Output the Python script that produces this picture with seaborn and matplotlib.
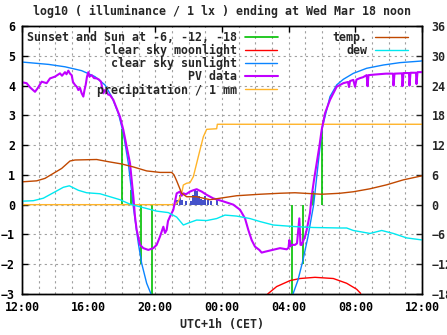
import numpy as np
import pandas as pd
import matplotlib
matplotlib.use("Agg")
import matplotlib.pyplot as plt
import seaborn as sns

# ---------------- data (hours after 12:00, log10 lux / deg C) ----------------
tick_hours = [0, 4, 8, 12, 16, 20, 24]
tick_labels = ["12:00", "16:00", "20:00", "00:00", "04:00", "08:00", "12:00"]

sun_eve_h = [0.0, 1.6, 2.58, 3.58, 4.38, 4.98, 5.38, 5.78, 6.08, 6.38, 6.68, 6.98, 7.18, 7.48, 7.74]
sun_eve_v = [4.79, 4.71, 4.63, 4.50, 4.30, 4.02, 3.63, 3.07, 2.40, 1.39, -0.07, -1.30, -1.97, -2.64, -3.0]
sun_mor_h = [16.26, 16.56, 16.86, 17.16, 17.5, 18.0, 18.48, 18.88, 19.28, 19.88, 20.68, 21.68, 22.68, 23.88, 24.0]
sun_mor_v = [-3.0, -2.53, -1.86, -1.07, 0.0, 2.55, 3.63, 4.02, 4.21, 4.41, 4.58, 4.69, 4.77, 4.82, 4.83]

moon_h = [14.74, 15.28, 16.08, 16.68, 17.58, 18.68, 19.48, 20.08, 20.32]
moon_v = [-3.0, -2.75, -2.55, -2.48, -2.44, -2.48, -2.64, -2.84, -2.98]

twilight_h = [6.02, 6.52, 7.16, 7.82, 16.22, 16.88, 17.48, 18.02]
twilight_v = [2.55, 0.5, -2.0, -4.0, -4.0, -2.0, 0.45, 2.55]

pv_h = [0.0, 0.28, 0.48, 0.78, 0.94, 1.18, 1.48, 1.68, 1.98, 2.28, 2.40, 2.58, 2.67, 2.78, 2.88,
        2.98, 3.06, 3.18, 3.30, 3.38, 3.48, 3.58, 3.68, 3.75, 3.82, 3.90, 3.98, 4.05, 4.18, 4.32,
        4.48, 4.62, 4.74, 4.88, 4.98, 5.08, 5.16, 5.28, 5.48, 5.68, 5.88, 6.08, 6.28, 6.48, 6.68,
        6.78, 6.88, 7.08, 7.28, 7.58, 7.88, 8.08, 8.28, 8.48, 8.58, 8.68, 8.76, 8.88, 9.08, 9.18,
        9.28, 9.48, 9.58, 9.68, 9.84, 10.08, 10.26, 10.48, 10.62, 10.78, 11.08, 11.48, 12.08, 12.68,
        13.08, 13.38, 13.58, 13.78, 13.98, 14.24, 14.38, 14.58, 14.88, 15.18, 15.48, 15.88, 15.99,
        16.04, 16.11, 16.18, 16.38, 16.50, 16.64, 16.71, 16.78, 16.89, 16.98, 17.08, 17.19, 17.28,
        17.38, 17.52, 17.68, 17.84, 17.98, 18.18, 18.48, 18.88, 19.28, 19.56, 19.62, 19.68, 19.88,
        19.98, 20.07, 20.28, 20.46, 20.68, 20.73, 20.79, 21.18, 21.68, 21.84, 22.26, 22.29, 22.35,
        22.68, 22.80, 22.83, 22.89, 23.22, 23.25, 23.31, 23.64, 23.67, 23.73, 24.0]
pv_v = [4.11, 4.08, 3.94, 3.79, 3.91, 4.13, 4.08, 4.24, 4.30, 4.41, 4.33, 4.45, 4.38, 4.50, 4.40,
        4.35, 4.12, 4.02, 3.95, 3.85, 3.92, 3.74, 3.63, 3.85, 4.02, 4.30, 4.45, 4.30, 4.35, 4.25,
        4.24, 4.20, 4.13, 3.74, 3.85, 3.79, 3.70, 3.68, 3.52, 3.24, 2.95, 2.51, 1.95, 1.39, 0.28,
        -0.40, -0.85, -1.35, -1.46, -1.52, -1.46, -1.35, -1.07, -0.74, -0.95, -0.85, -0.55, -0.40, -0.17, 0.10,
        0.38, 0.44, 0.30, 0.38, 0.35, 0.44, 0.48, 0.52, 0.48, 0.44, 0.33, 0.21, 0.11, 0.0,
        -0.17, -0.46, -0.85, -1.19, -1.41, -1.52, -1.61, -1.58, -1.54, -1.50, -1.46, -1.50, -1.45,
        -1.19, -1.40, -1.35, -1.35, -1.30, -0.46, -1.35, -1.35, -1.20, -1.07, -0.85, -0.55, -0.28,
        0.28, 0.83, 1.39, 1.95, 2.51, 3.07, 3.52, 3.96, 4.08, 4.12, 3.95, 4.15, 4.19,
        3.96, 4.20, 4.25, 4.28, 4.35, 3.98, 4.35, 4.37, 4.39, 4.40, 4.40, 4.00, 4.40,
        4.41, 4.41, 3.98, 4.42, 4.42, 4.00, 4.43, 4.43, 4.05, 4.45, 4.45]

precip_h = [0.0, 9.2, 9.38, 9.58, 9.68, 9.88, 10.08, 10.28, 10.48, 10.68, 10.88, 11.08, 11.68, 11.72, 24.0]
precip_v = [0.0, 0.0, 0.11, 0.38, 0.66, 0.72, 0.74, 0.94, 1.39, 1.84, 2.28, 2.53, 2.55, 2.70, 2.70]

rate_h = [9.30, 9.48, 9.60, 9.84, 10.14, 10.26, 10.38, 10.50, 10.62, 10.74, 10.86, 10.98, 11.16, 11.34, 11.70]
rate_v = [0.17, 0.34, 0.17, 0.11, 0.13, 0.34, 0.48, 0.45, 0.28, 0.20, 0.17, 0.28, 0.14, 0.11, 0.14]

temp_h = [0.0, 0.88, 1.38, 1.88, 2.38, 2.88, 3.18, 4.48, 5.28, 5.98, 6.68, 7.48, 8.28, 8.98, 9.12,
          9.28, 9.58, 9.88, 10.48, 10.88, 11.28, 11.88, 12.88, 14.28, 15.48, 16.38, 17.98, 19.08,
          19.88, 20.88, 21.88, 22.88, 23.98]
temp_c = [4.6, 4.8, 5.3, 6.3, 7.3, 8.8, 9.0, 9.1, 8.6, 8.2, 7.6, 6.8, 6.5, 6.5, 6.0,
          4.8, 2.3, 1.6, 1.6, 1.3, 1.0, 1.3, 1.8, 2.1, 2.3, 2.4, 2.1, 2.3,
          2.6, 3.2, 4.0, 5.0, 5.8]

dew_h = [0.0, 0.68, 1.28, 1.88, 2.48, 2.84, 3.38, 3.88, 4.68, 5.28, 5.88, 6.48, 7.28, 8.08, 8.78,
         9.28, 9.68, 9.98, 10.48, 11.08, 11.68, 12.18, 12.88, 13.68, 14.28, 15.08, 16.28, 17.48,
         19.08, 19.48, 19.88, 20.88, 21.58, 22.28, 23.08, 23.98]
dew_c = [0.7, 0.8, 1.3, 2.4, 3.5, 3.8, 2.9, 2.4, 2.2, 1.6, 1.0, 0.1, -0.6, -1.3, -1.6,
         -2.5, -4.1, -3.7, -3.1, -3.2, -2.8, -2.1, -2.3, -2.8, -3.4, -4.1, -4.4, -4.6,
         -4.7, -4.7, -5.2, -5.8, -5.2, -5.8, -6.7, -7.1]

# ---------------- style ----------------
sns.set_style("white")
FONT = ["DejaVu Sans Mono"]
plt.rcParams["font.family"] = FONT
plt.rcParams["font.weight"] = "bold"
plt.rcParams["font.size"] = 8.4

C_GREEN = "#00c000"
C_RED = "#ff0000"
C_BLUE = "#0a84ff"
C_PURPLE = "#c000ff"
C_ORANGE = "#ffb428"
C_BROWN = "#c04800"
C_CYAN = "#00e8f0"
C_BAR = "#2030c0"

fig = plt.figure(figsize=(4.47, 3.35), dpi=100)
ax = fig.add_axes([22 / 447, 41 / 335, 400 / 447, 268 / 335])

# sunset / twilight impulses
ax.vlines(twilight_h, 0, twilight_v, color=C_GREEN, lw=1.2, zorder=3)
ax.plot([], [], color=C_GREEN, lw=1.2, label="Sunset and Sun at -6, -12, -18")

moon_df = pd.DataFrame({"h": moon_h, "v": moon_v})
sns.lineplot(data=moon_df, x="h", y="v", ax=ax, color=C_RED, lw=1.0,
             estimator=None, sort=False, label="clear sky moonlight", zorder=3)

sun_df = pd.DataFrame({"h": sun_eve_h + sun_mor_h, "v": sun_eve_v + sun_mor_v,
                       "seg": [0] * len(sun_eve_h) + [1] * len(sun_mor_h)})
sns.lineplot(data=sun_df, x="h", y="v", units="seg", ax=ax, color=C_BLUE, lw=1.0,
             estimator=None, sort=False, zorder=3)
ax.plot([], [], color=C_BLUE, lw=1.0, label="clear sky sunlight")

pv_df = pd.DataFrame({"h": pv_h, "v": pv_v})
sns.lineplot(data=pv_df, x="h", y="v", ax=ax, color=C_PURPLE, lw=1.5,
             estimator=None, sort=False, label="PV data", zorder=4)

ax.vlines(rate_h, 0, rate_v, color=C_BAR, lw=1.2, zorder=3)

pr_df = pd.DataFrame({"h": precip_h, "v": precip_v})
sns.lineplot(data=pr_df, x="h", y="v", ax=ax, color=C_ORANGE, lw=1.0,
             estimator=None, sort=False, label="precipitation / 1 mm", zorder=3)

ax.set_xlim(0, 24)
ax.set_ylim(-3, 6)
ax.set_xticks(tick_hours)
ax.set_xticklabels(tick_labels)
ax.set_xticks(np.arange(0, 25, 1), minor=True)
ax.set_yticks(np.arange(-3, 7, 1))
ax.set_axisbelow(True)
ax.grid(which="both", axis="x", ls=(0, (2, 3)), color="#a0a0a0", lw=0.8)
ax.grid(which="major", axis="y", ls=(0, (2, 3)), color="#a0a0a0", lw=0.8)
ax.tick_params(axis="both", which="major", direction="in", length=4, width=1, colors="black",
               top=True, labelsize=8.4)
ax.tick_params(axis="x", which="major", pad=5)
ax.tick_params(axis="y", which="major", pad=5, right=False)
ax.tick_params(axis="x", which="minor", length=0)
ax.set_xlabel("UTC+1h (CET)", fontsize=8.4, fontweight="bold", labelpad=3)
ax.set_ylabel("")
ax.set_title("log10 ( illuminance / 1 lx ) ending at Wed Mar 18 noon",
             fontsize=8.4, fontweight="bold", pad=8)
for s in ax.spines.values():
    s.set_color("black")
    s.set_linewidth(1.0)

ax.legend(loc="upper left", bbox_to_anchor=(0.0, 1.0), frameon=False, markerfirst=False,
          handlelength=2.75, handletextpad=0.7, labelspacing=0.0, borderaxespad=0.0,
          borderpad=0.45, prop={"family": FONT, "weight": "bold", "size": 8.4})

# temperature / dew point on right axis
ax2 = ax.twinx()
t_df = pd.DataFrame({"h": temp_h, "c": temp_c})
d_df = pd.DataFrame({"h": dew_h, "c": dew_c})
sns.lineplot(data=t_df, x="h", y="c", ax=ax2, color=C_BROWN, lw=1.0,
             estimator=None, sort=False, label="temp.")
sns.lineplot(data=d_df, x="h", y="c", ax=ax2, color=C_CYAN, lw=1.0,
             estimator=None, sort=False, label="dew")
ax2.set_ylim(-18, 36)
ax2.set_yticks(np.arange(-18, 37, 6))
ax2.set_ylabel("")
ax2.tick_params(axis="y", direction="in", length=4, width=1, pad=7, labelsize=8.4)
ax2.legend(loc="upper right", bbox_to_anchor=(0.977, 1.0), frameon=False, markerfirst=False,
           handlelength=2.75, handletextpad=0.7, labelspacing=0.0, borderaxespad=0.0,
           borderpad=0.45, prop={"family": FONT, "weight": "bold", "size": 8.4})
for s in ax2.spines.values():
    s.set_color("black")
    s.set_linewidth(1.0)

fig.savefig("out.png", dpi=100)
